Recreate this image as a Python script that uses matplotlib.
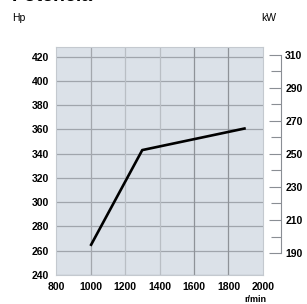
import matplotlib.pyplot as plt

plt.rcParams['font.family'] = ['Liberation Sans', 'DejaVu Sans']

rpm = [1000, 1300, 1900]
hp = [264, 343, 361]
xticks = [800, 1000, 1200, 1400, 1600, 1800, 2000]
hp_ticks = [240, 260, 280, 300, 320, 340, 360, 380, 400, 420]
kw_ticks = [190, 210, 230, 250, 270, 290, 310]
kw_minor = [200, 220, 240, 260, 280, 300]

# the vertical grid lines are not all the same shade in the original
vline_colors = {1000: '#a3a7ad', 1200: '#b9bec4', 1400: '#b9bec4',
                1600: '#8e9298', 1800: '#8e9298'}

fig = plt.figure(figsize=(3.07, 3.04), dpi=100)
ax = fig.add_axes([56 / 307, 29 / 304, 207 / 307, 228 / 304])
ax.set_facecolor('#dbe1e8')
for x, c in vline_colors.items():
    ax.axvline(x, color=c, lw=0.9, zorder=1)
ax.plot(rpm, hp, color='black', lw=1.9, solid_capstyle='butt', zorder=3)
ax.set_xlim(800, 2000)
ax.set_ylim(240, 428)
ax.set_xticks(xticks)
ax.set_yticks(hp_ticks)
ax.grid(True, axis='y', color='#a0a5ac', lw=0.9)
ax.set_axisbelow(True)
ax.tick_params(length=0, labelsize=7.5, pad=5)
for lbl in ax.get_xticklabels() + ax.get_yticklabels():
    lbl.set_fontweight('bold')
for s in ax.spines.values():
    s.set_color('#c4c9cf')
    s.set_linewidth(0.8)

# kW scale on the right
ax2 = ax.twinx()
ax2.set_ylim(176.7, 314.7)
for k in ['top', 'bottom', 'left']:
    ax2.spines[k].set_visible(False)
ax2.spines['right'].set_position(('axes', 1.087))
ax2.spines['right'].set_bounds(190, 310)
ax2.spines['right'].set_color('#8a8e94')
ax2.spines['right'].set_linewidth(0.8)
ax2.set_yticks(kw_ticks)
ax2.set_yticks(kw_minor, minor=True)
ax2.tick_params(axis='y', which='major', direction='in', length=9, width=0.8,
                color='#8a8e94', labelsize=7.5, pad=3)
ax2.tick_params(axis='y', which='minor', direction='in', length=7, width=0.8,
                color='#8a8e94')
for lbl in ax2.get_yticklabels():
    lbl.set_fontweight('bold')

fig.text(12 / 307, 1 - 5 / 304, 'Potencia', fontsize=14, fontweight='bold', va='bottom')
fig.text(12 / 307, 1 - 18 / 304, 'Hp', fontsize=7.5, va='center')
fig.text(261 / 307, 1 - 18 / 304, 'kW', fontsize=7.5, va='center')
fig.text(255 / 307, 1 - 300 / 304, 'r/min', fontsize=6.5, fontweight='bold', ha='center', va='center')

fig.savefig('out.png', dpi=100)
